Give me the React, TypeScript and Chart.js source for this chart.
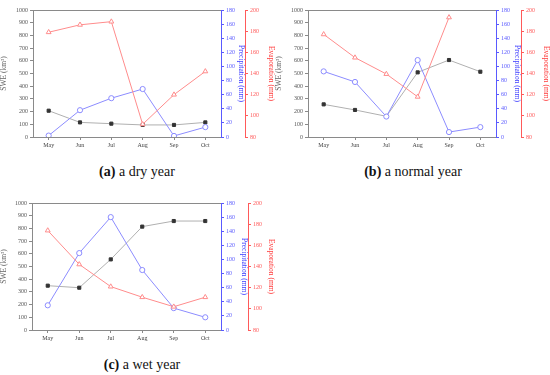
import React, { useEffect, useRef } from "react";
import { Chart, registerables } from "chart.js";
Chart.register(...registerables);

const months = ["May", "Jun", "Jul", "Aug", "Sep", "Oct"];

const dryYearSWE = [207, 115, 105, 95, 95, 115];
const dryYearPrecip = [2, 38, 55, 68, 1.5, 14];
const dryYearEvap = [179, 186, 189, 92, 120, 142];

const normalYearSWE = [257, 213, 163, 509, 606, 514];
const normalYearPrecip = [93, 78, 29, 109, 7, 14];
const normalYearEvap: (number | null)[] = [177, 155, 139.5, 118, 193, null];

const wetYearSWE = [349, 333, 556, 814, 858, 858];
const wetYearPrecip = [35, 109, 160, 85, 31, 18];
const wetYearEvap = [174, 142, 121, 111, 102, 111];

const sweTicks = { min: 0, max: 1000, step: 100 };
const precipTicks = { min: 0, max: 180, step: 20 };
const evapTicks = { min: 80, max: 200, step: 20 };

const FONT = "'Liberation Serif', 'Times New Roman', serif";
const GREY = "#8a8a8a";
const BLUE = "#5a5aff";
const RED = "#ff5a5a";

const framePlugin = {
  id: "frameTop",
  afterDraw(chart: any) {
    const { ctx, chartArea } = chart;
    ctx.save();
    ctx.strokeStyle = GREY;
    ctx.lineWidth = 1;
    ctx.beginPath();
    ctx.moveTo(chartArea.left, Math.round(chartArea.top) + 0.5);
    ctx.lineTo(chartArea.right, Math.round(chartArea.top) + 0.5);
    ctx.stroke();
    ctx.restore();
  },
};

type PanelProps = {
  swe: number[];
  precip: number[];
  evap: (number | null)[];
  left: number;
  top: number;
  leftW: number;
  blueW: number;
  redW: number;
};

const plain = (v: any) => String(v);

function Panel({ swe, precip, evap, left, top, leftW, blueW, redW }: PanelProps) {
  const ref = useRef<HTMLCanvasElement>(null);
  useEffect(() => {
    if (!ref.current) return;
    const tickFont = { family: FONT, size: 6 };
    const chart = new Chart(ref.current, {
      type: "line",
      data: {
        labels: months,
        datasets: [
          {
            label: "SWE",
            data: swe,
            yAxisID: "y",
            borderColor: "#b0b0b0",
            borderWidth: 1,
            pointStyle: "rect",
            pointRadius: 2.2,
            pointBackgroundColor: "#333333",
            pointBorderColor: "#333333",
            order: 3,
          },
          {
            label: "Precipitation",
            data: precip,
            yAxisID: "yp",
            borderColor: "#8c8cff",
            borderWidth: 1,
            pointStyle: "circle",
            pointRadius: 2.6,
            pointBackgroundColor: "#ffffff",
            pointBorderColor: "#8c8cff",
            pointBorderWidth: 1,
            order: 2,
          },
          {
            label: "Evaporation",
            data: evap,
            yAxisID: "ye",
            borderColor: "#ff8c8c",
            borderWidth: 1,
            pointStyle: "triangle",
            pointRadius: 2.8,
            pointBackgroundColor: "#ffffff",
            pointBorderColor: "#ff8c8c",
            pointBorderWidth: 1,
            order: 1,
          },
        ],
      },
      options: {
        responsive: false,
        animation: false,
        layout: { padding: { top: 10, right: 0, left: 0, bottom: 0 } },
        plugins: { legend: { display: false }, tooltip: { enabled: false } },
        scales: {
          x: {
            offset: true,
            grid: { drawOnChartArea: false, drawTicks: true, tickLength: 3, color: GREY },
            border: { color: GREY },
            ticks: { font: tickFont, color: "#444", padding: 2 },
            afterFit: (s: any) => {
              s.height = 23;
            },
          },
          y: {
            position: "left",
            min: sweTicks.min,
            max: sweTicks.max,
            grid: { drawOnChartArea: false, drawTicks: true, tickLength: 3, color: GREY },
            border: { color: GREY },
            ticks: { stepSize: sweTicks.step, font: tickFont, color: "#555", padding: 2, callback: plain },
            title: {
              display: true,
              text: "SWE (km³)",
              color: "#666",
              font: { family: FONT, size: 7.5 },
              padding: 0,
            },
            afterFit: (s: any) => {
              s.width = leftW;
            },
          },
          yp: {
            position: "right",
            weight: 0,
            min: precipTicks.min,
            max: precipTicks.max,
            grid: { drawOnChartArea: false, drawTicks: true, tickLength: 3, color: BLUE },
            border: { color: BLUE },
            ticks: { stepSize: precipTicks.step, font: tickFont, color: BLUE, padding: 2, callback: plain },
            title: {
              display: true,
              text: "Precipitation (mm)",
              color: "#3c3cff",
              font: { family: FONT, size: 7.5 },
              padding: 0,
            },
            afterFit: (s: any) => {
              s.width = blueW;
            },
          },
          ye: {
            position: "right",
            weight: 1,
            min: evapTicks.min,
            max: evapTicks.max,
            grid: { drawOnChartArea: false, drawTicks: true, tickLength: 3, color: RED },
            border: { color: RED },
            ticks: { stepSize: evapTicks.step, font: tickFont, color: RED, padding: 2, callback: plain },
            title: {
              display: true,
              text: "Evaporation (mm)",
              color: "#ff3c3c",
              font: { family: FONT, size: 7.5 },
              padding: 0,
            },
            afterFit: (s: any) => {
              s.width = redW;
            },
          },
        },
      } as any,
      plugins: [framePlugin],
    });
    return () => chart.destroy();
  }, []);
  return (
    <canvas
      ref={ref}
      width={275}
      height={160}
      style={{ position: "absolute", left, top, width: 275, height: 160 }}
    />
  );
}

function Caption({ letter, text, cx, cy }: { letter: string; text: string; cx: number; cy: number }) {
  return (
    <div
      style={{
        position: "absolute",
        left: cx - 80,
        top: cy - 9,
        width: 160,
        textAlign: "center",
        fontFamily: FONT,
        fontSize: 14,
        lineHeight: "18px",
        color: "#111",
        whiteSpace: "nowrap",
      }}
    >
      <b>({letter})</b> {text}
    </div>
  );
}

export default function App() {
  return (
    <div
      style={{
        position: "absolute",
        left: 0,
        top: 0,
        width: 550,
        height: 375,
        background: "#fff",
        overflow: "hidden",
      }}
    >
      <Panel swe={dryYearSWE} precip={dryYearPrecip} evap={dryYearEvap} left={0} top={0} leftW={33} blueW={24} redW={30} />
      <Panel swe={normalYearSWE} precip={normalYearPrecip} evap={normalYearEvap} left={275} top={0} leftW={33} blueW={25} redW={29} />
      <Panel swe={wetYearSWE} precip={wetYearPrecip} evap={wetYearEvap} left={0} top={193} leftW={32} blueW={27} redW={27} />
      <Caption letter="a" text="a dry year" cx={137} cy={172} />
      <Caption letter="b" text="a normal year" cx={413} cy={172} />
      <Caption letter="c" text="a wet year" cx={142} cy={365} />
    </div>
  );
}
